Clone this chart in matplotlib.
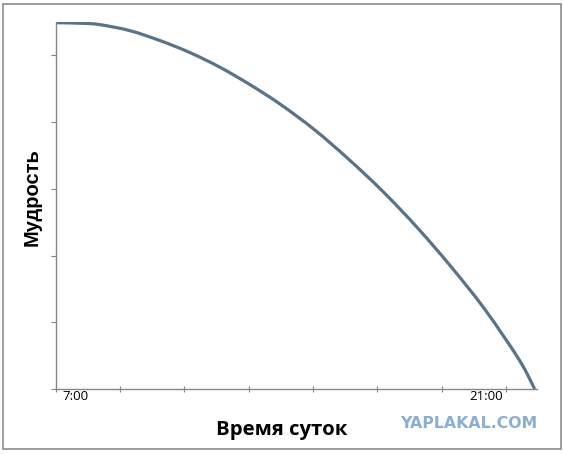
import numpy as np
import matplotlib
matplotlib.use("Agg")
import matplotlib.pyplot as plt
from matplotlib.patches import Rectangle, PathPatch
from matplotlib.path import Path

# === Data (hours of the day vs wisdom) ===
hours = [6.35, 7.27, 7.85, 8.87, 9.90, 10.92, 11.94, 12.96, 13.98,
         15.14, 16.30, 17.46, 18.63, 19.79, 20.96, 22.12, 22.65]
wisdom = [5.49, 5.48, 5.46, 5.37, 5.22, 5.04, 4.82, 4.56, 4.27,
          3.89, 3.45, 2.97, 2.43, 1.84, 1.19, 0.44, 0.0]

label_hours = [7, 21]
label_texts = ["7:00", "21:00"]
x_title = "Время суток"
y_title = "Мудрость"
watermark = "YAPLAKAL.COM"


def smooth_path(xs, ys, t=1 / 6):
    # Excel style "smoothed line": cubic bezier through the points (catmull-rom tangents)
    xs = np.asarray(xs, float)
    ys = np.asarray(ys, float)
    n = len(xs)
    verts = [(xs[0], ys[0])]
    codes = [Path.MOVETO]
    for i in range(n - 1):
        p0 = max(i - 1, 0)
        p3 = min(i + 2, n - 1)
        c1 = (xs[i] + (xs[i + 1] - xs[p0]) * t, ys[i] + (ys[i + 1] - ys[p0]) * t)
        c2 = (xs[i + 1] - (xs[p3] - xs[i]) * t, ys[i + 1] - (ys[p3] - ys[i]) * t)
        verts += [c1, c2, (xs[i + 1], ys[i + 1])]
        codes += [Path.CURVE4] * 3
    return Path(verts, codes)


# === Figure ===
fig = plt.figure(figsize=(5.63, 4.54), dpi=100)
fig.patch.set_facecolor("white")

# chart frame (Excel chart area border)
fig.patches.append(Rectangle((3 / 563, 1 - 449 / 454), 558 / 563, 445 / 454,
                             transform=fig.transFigure, fill=False,
                             edgecolor="#8c8c8c", linewidth=1.2))

ax = fig.add_axes([55.7 / 563, 1 - 389 / 454, 481 / 563, 367 / 454])
ax.add_patch(PathPatch(smooth_path(hours, wisdom), fill=False,
                       edgecolor="#56748c", linewidth=2.3, capstyle="butt"))

ax.set_xlim(6.34, 22.72)
ax.set_ylim(0, 5.5)

for s in ["top", "right"]:
    ax.spines[s].set_visible(False)
for s in ["left", "bottom"]:
    ax.spines[s].set_color("#868686")
    ax.spines[s].set_linewidth(1.0)

# major ticks without labels
ax.set_yticks(np.arange(0, 6))
ax.set_yticklabels([])
ax.tick_params(axis="y", length=3.5, width=0.8, color="#868686", direction="out")
ax.set_xticks(6.34 + 2.19 * np.arange(8))
ax.set_xticklabels([])
ax.tick_params(axis="x", which="major", length=4, width=0.8, color="#868686", direction="inout")

# hour labels as minor ticks
ax.set_xticks(label_hours, minor=True)
ax.set_xticklabels(label_texts, minor=True, fontsize=9.5, family=["Open Sans", "DejaVu Sans"])
ax.tick_params(axis="x", which="minor", length=0, pad=1.0)

ax.set_xlabel(x_title, fontsize=14.6, fontweight="bold", family=["Open Sans", "DejaVu Sans"])
ax.xaxis.set_label_coords(0.47, -0.085)
ax.set_ylabel(y_title, fontsize=14.5, fontweight="bold", family=["Liberation Sans", "DejaVu Sans"])
ax.yaxis.set_label_coords(-0.029, 0.523)

fig.text(468.5 / 563, 1 - 424 / 454, watermark, fontsize=11.3, fontweight="heavy",
         color="#8aafd4", ha="center", va="center", family="DejaVu Sans")

fig.savefig("out.png", dpi=100, facecolor="white")
